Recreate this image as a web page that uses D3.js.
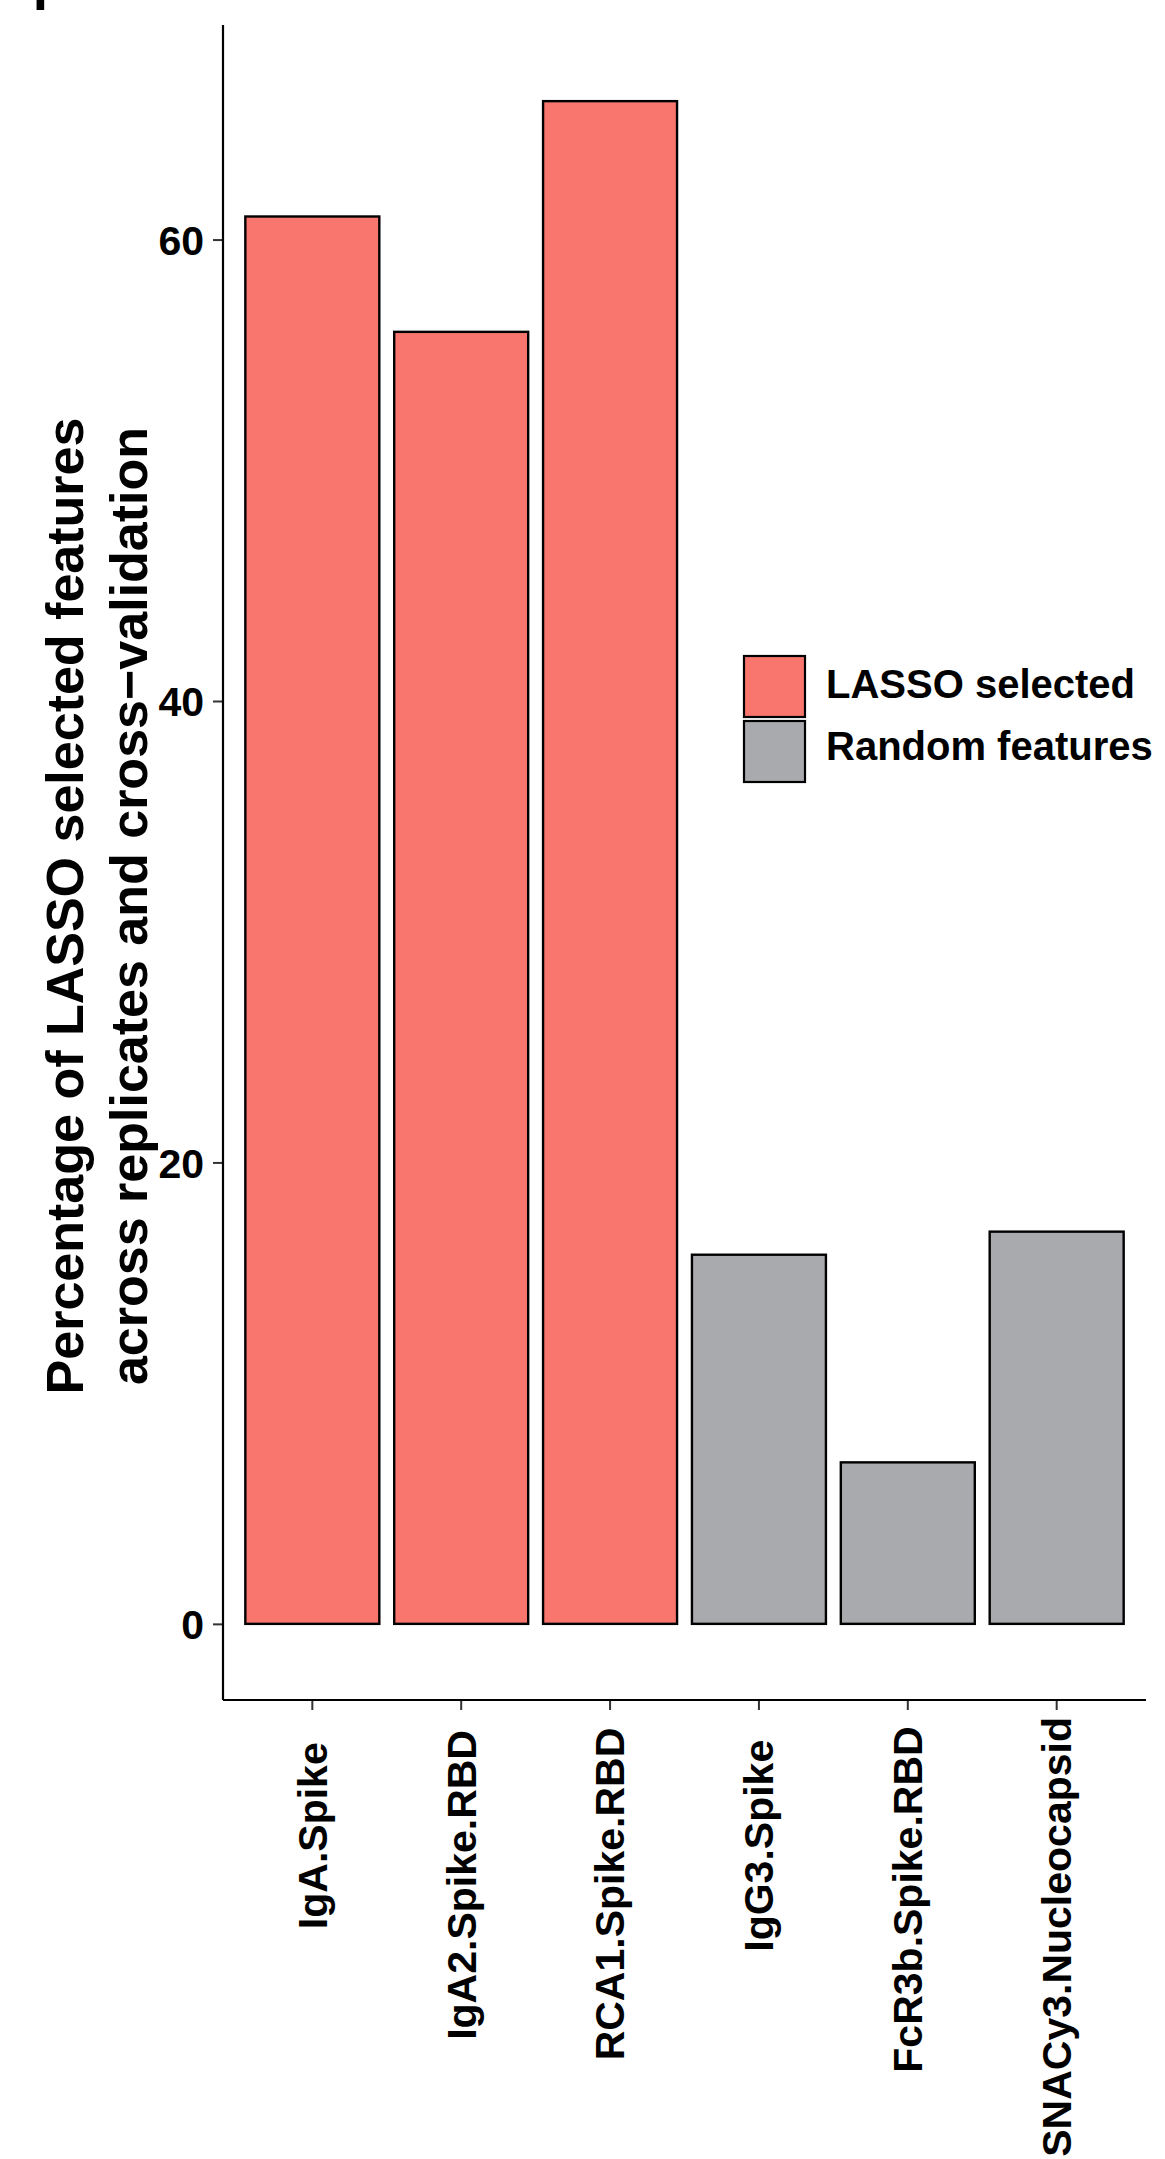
<!DOCTYPE html>
<html>
<head>
<meta charset="utf-8">
<script src="https://cdn.jsdelivr.net/npm/d3@7"></script>
<style>
  html, body { margin: 0; padding: 0; background: #fff; }
  svg { display: block; }
  text { font-family: "Liberation Sans", Arial, Helvetica, sans-serif; font-weight: bold; fill: #000; }
</style>
</head>
<body>
<script>
// Feature names, selection percentages and group membership
const categories = ["IgA.Spike", "IgA2.Spike.RBD", "RCA1.Spike.RBD", "IgG3.Spike", "FcR3b.Spike.RBD", "SNACy3.Nucleocapsid"];
const percentages = [61, 56, 66, 16, 7, 17];
const groups = ["LASSO selected", "LASSO selected", "LASSO selected", "Random features", "Random features", "Random features"];
const groupNames = ["LASSO selected", "Random features"];
const groupColors = ["#F8766D", "#A9AAAE"];
const yTicks = [0, 20, 40, 60];
const yTitleLines = ["Percentage of LASSO selected features", "across replicates and cross\u2212validation"];

const W = 1165, H = 2159;
const plot = { left: 223, right: 1146, top: 25, bottom: 1700 };

const svg = d3.select("body").append("svg").attr("width", W).attr("height", H);

// Panel letter, partly above the top edge
svg.append("text").attr("x", 33).attr("y", 10).style("font-size", "53px").text("I");

const yMax = d3.max(percentages);
const y = d3.scaleLinear()
  .domain([-0.05 * yMax, yMax * 1.05])
  .range([plot.bottom, plot.top]);

const x = d3.scaleBand()
  .domain(categories)
  .range([plot.left, plot.right])
  .paddingInner(0.1)
  .paddingOuter(0.15);

const color = d3.scaleOrdinal().domain(groupNames).range(groupColors);

// Bars
svg.append("g").selectAll("rect")
  .data(categories)
  .join("rect")
  .attr("x", d => x(d))
  .attr("width", x.bandwidth())
  .attr("y", (d, i) => y(percentages[i]))
  .attr("height", (d, i) => y(0) - y(percentages[i]))
  .attr("fill", (d, i) => color(groups[i]))
  .attr("stroke", "#000")
  .attr("stroke-width", 2.4);

// Y axis
const yAxis = svg.append("g")
  .attr("transform", `translate(${plot.left},0)`)
  .call(d3.axisLeft(y).tickValues(yTicks).tickSize(10).tickPadding(9).tickFormat(d3.format("d")));
yAxis.select(".domain").remove();
yAxis.selectAll(".tick line").attr("stroke", "#333").attr("stroke-width", 2);
yAxis.selectAll(".tick text").style("font-size", "41px").attr("dy", "0.36em");
svg.append("line")
  .attr("x1", plot.left).attr("x2", plot.left)
  .attr("y1", plot.top).attr("y2", plot.bottom)
  .attr("stroke", "#000").attr("stroke-width", 2.2);

// X axis
const xAxis = svg.append("g")
  .attr("transform", `translate(0,${plot.bottom})`)
  .call(d3.axisBottom(x).tickSize(10).tickFormat(""));
xAxis.select(".domain").remove();
xAxis.selectAll(".tick line").attr("stroke", "#333").attr("stroke-width", 2);
svg.append("line")
  .attr("x1", plot.left).attr("x2", plot.right)
  .attr("y1", plot.bottom).attr("y2", plot.bottom)
  .attr("stroke", "#000").attr("stroke-width", 2.2);

// Rotated category labels, anchored 90% along their length
const labelAnchorY = 1761;
const labelHjust = 0.9;
const labels = svg.append("g").selectAll("text")
  .data(categories)
  .join("text")
  .style("font-size", "41px")
  .attr("dy", "0.35em")
  .text(d => d);
labels.each(function (d) {
  const len = this.getComputedTextLength();
  const cx = x(d) + x.bandwidth() / 2;
  d3.select(this)
    .attr("text-anchor", "start")
    .attr("x", -labelHjust * len)
    .attr("y", 0)
    .attr("transform", `translate(${cx},${labelAnchorY}) rotate(-90)`);
});

// Y axis title (two lines)
const titleCenterY = 906;
svg.append("g").selectAll("text")
  .data(yTitleLines)
  .join("text")
  .attr("text-anchor", "middle")
  .style("font-size", "52px")
  .attr("transform", (d, i) => `translate(${82.5 + i * 64},${titleCenterY}) rotate(-90)`)
  .text(d => d);

// Legend
const legend = svg.append("g");
const keySize = 61;
groupNames.forEach((g, i) => {
  legend.append("rect")
    .attr("x", 744).attr("y", 656 + i * 65)
    .attr("width", keySize).attr("height", keySize)
    .attr("fill", color(g))
    .attr("stroke", "#000").attr("stroke-width", 2.2);
  legend.append("text")
    .attr("x", 826).attr("y", 698 + i * 62)
    .style("font-size", "40px")
    .text(g);
});
</script>
</body>
</html>
